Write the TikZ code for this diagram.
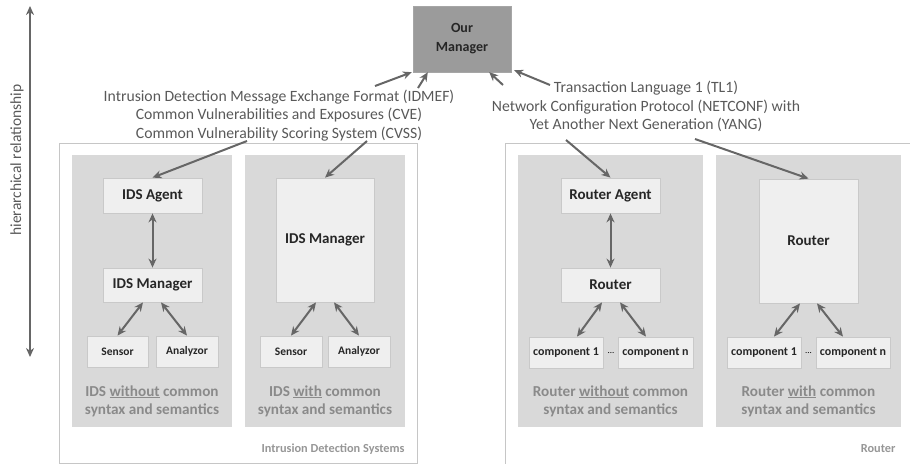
\documentclass[tikz,border=0pt]{standalone}
\usepackage{fontspec}
\setmainfont{Carlito}
\usetikzlibrary{arrows.meta}
\definecolor{mgrgray}{HTML}{9B9B9B}
\definecolor{panelgray}{HTML}{D9D9D9}
\definecolor{boxgray}{HTML}{EFEFEF}
\definecolor{boxline}{HTML}{C9C9C9}
\definecolor{arrowgray}{HTML}{666666}
\definecolor{textgray}{HTML}{595959}
\definecolor{capgray}{HTML}{8A8A8A}
\tikzset{
  panel/.style={fill=panelgray, draw=none},
  unit/.style={draw=boxline, fill=boxgray, line width=0.8, inner sep=0,
    font=\fontsize{15}{18}\selectfont\bfseries, text=black!85},
  smallunit/.style={unit, font=\fontsize{12}{14}\selectfont\bfseries},
  conn/.style={draw=arrowgray, line width=2,
    -{Stealth[length=9,width=8]}},
  dconn/.style={conn, {Stealth[length=9,width=8]}-{Stealth[length=9,width=8]}},
  caption/.style={align=center, text=capgray,
    font=\fontsize{15.2}{18}\selectfont\bfseries},
  proto/.style={align=center, text=textgray, inner sep=0,
    font=\fontsize{15.7}{18.2}\selectfont},
  corner/.style={text=capgray!90, font=\fontsize{12.3}{14}\selectfont\bfseries}
}

\begin{document}
\begin{tikzpicture}[x=1pt,y=-1pt]
\useasboundingbox (0,0) rectangle (910,464);

% hierarchy
\coordinate (htop) at (30,6);
\coordinate (hbot) at (30,357);
\draw[dconn] (htop) -- (hbot);
\node[rotate=90, text=textgray, font=\fontsize{15.5}{18}\selectfont] (hlabel) at (17,160) {hierarchical relationship};

% outer frames
\draw[draw=gray!45, line width=1] (59,143) rectangle (417,463);
\draw[draw=gray!45, line width=1] (915,143) -- (505,143) -- (505,464);

\node[fill=mgrgray, draw=gray!70, minimum width=98, minimum height=66, align=center,
  font=\fontsize{14}{19}\selectfont\bfseries, text=black!85] (mgr) at (462,39) {Our\\Manager};

% panels
\node[panel, minimum width=160, minimum height=272] (p1) at (152,291) {};
\node[panel, minimum width=160, minimum height=272] (p2) at (325,291) {};
\node[panel, minimum width=185, minimum height=272] (p3) at (610.5,291) {};
\node[panel, minimum width=185, minimum height=272] (p4) at (808.5,291) {};

% IDS without
\node[unit, minimum width=99, minimum height=35] (agent) at (152.5,195.5) {IDS Agent};
\node[unit, minimum width=99, minimum height=34] (idsm1) at (152.5,285) {IDS Manager};
\node[smallunit, minimum width=61, minimum height=31, font=\fontsize{11.5}{14}\selectfont\bfseries] (sens1) at (117.5,351.5) {Sensor};
\node[smallunit, minimum width=62, minimum height=31, font=\fontsize{11.5}{14}\selectfont\bfseries] (anal1) at (187,351.5) {Analyzor};
\node[caption] (cap1) at (152,401) {IDS \underline{without} common\\syntax and semantics};

% IDS with
\node[unit, minimum width=98, minimum height=124] (idsm2) at (325,240) {IDS Manager};
\node[smallunit, minimum width=62, minimum height=31, font=\fontsize{11.5}{14}\selectfont\bfseries] (sens2) at (291,351.5) {Sensor};
\node[smallunit, minimum width=62, minimum height=31, font=\fontsize{11.5}{14}\selectfont\bfseries] (anal2) at (359,351.5) {Analyzor};
\node[caption] (cap2) at (325,401) {IDS \underline{with} common\\syntax and semantics};

% Router without
\node[unit, minimum width=99, minimum height=35] (ragent) at (610.5,195.5) {Router Agent};
\node[unit, minimum width=99, minimum height=34] (rout1) at (610.5,285) {Router};
\node[smallunit, minimum width=74, minimum height=31] (ca1) at (566,352.5) {component 1};
\node[smallunit, minimum width=75, minimum height=31] (can) at (655.5,352.5) {component n};
\node[font=\fontsize{9}{10}\selectfont, inner sep=0] (dotsa) at (611,353) {...};
\node[caption] (cap3) at (610.5,401) {Router \underline{without} common\\syntax and semantics};

% Router with
\node[unit, minimum width=99, minimum height=124] (rout2) at (808.5,241) {Router};
\node[smallunit, minimum width=74, minimum height=31] (cb1) at (764,352.5) {component 1};
\node[smallunit, minimum width=74, minimum height=31] (cbn) at (853,352.5) {component n};
\node[font=\fontsize{9}{10}\selectfont, inner sep=0] (dotsb) at (808.5,353) {...};
\node[caption] (cap4) at (808.5,401) {Router \underline{with} common\\syntax and semantics};

\node[corner, anchor=east] (idslabel) at (408,449) {Intrusion Detection Systems};
\node[corner, anchor=east] (routlabel) at (899,449) {Router};

% protocols
\node[proto] (idsproto) at (279,115.5) {Intrusion Detection Message Exchange Format (IDMEF)\\
  Common Vulnerabilities and Exposures (CVE)\\Common Vulnerability Scoring System (CVSS)};
\node[proto] (rproto) at (646,106.5) {Transaction Language 1 (TL1)\\
  Network Configuration Protocol (NETCONF) with\\Yet Another Next Generation (YANG)};

\coordinate (upa) at (375,86);
\coordinate (upb) at (418,88);
\coordinate (upc) at (503,85);
\coordinate (upd) at (550,85);
\coordinate (dna) at (247,141);
\coordinate (dnb) at (367,141);
\coordinate (dnc) at (566,140);
\coordinate (dnd) at (695,139);

\draw[conn] (upa) -- ([xshift=-1]mgr.south west);
\draw[conn] (upb) -- ([xshift=15]mgr.south west);
\draw[conn] (upc) -- ([xshift=-22]mgr.south east);
\draw[conn] (upd) -- ([xshift=3,yshift=2]mgr.south east);

\draw[conn] (dna) -- (agent.north);
\draw[conn] (dnb) -- (idsm2.north);
\draw[conn] (dnc) -- (ragent.north);
\draw[conn] (dnd) -- (rout2.north);

% inner links
\draw[dconn] (agent) -- (idsm1);
\draw[dconn] ([xshift=-9.5]idsm1.south) -- (sens1.north);
\draw[dconn] ([xshift=8.5]idsm1.south) -- (anal1.north);
\draw[dconn] ([xshift=-9]idsm2.south) -- (sens2.north);
\draw[dconn] ([xshift=9]idsm2.south) -- (anal2.north);
\draw[dconn] (ragent) -- (rout1);
\draw[dconn] ([xshift=-8.5]rout1.south) -- ([xshift=11]ca1.north);
\draw[dconn] ([xshift=9.5]rout1.south) -- ([xshift=-9.5]can.north);
\draw[dconn] ([xshift=-8.5]rout2.south) -- ([xshift=10]cb1.north);
\draw[dconn] ([xshift=8.5]rout2.south) -- ([xshift=-10]cbn.north);
\end{tikzpicture}
\end{document}
